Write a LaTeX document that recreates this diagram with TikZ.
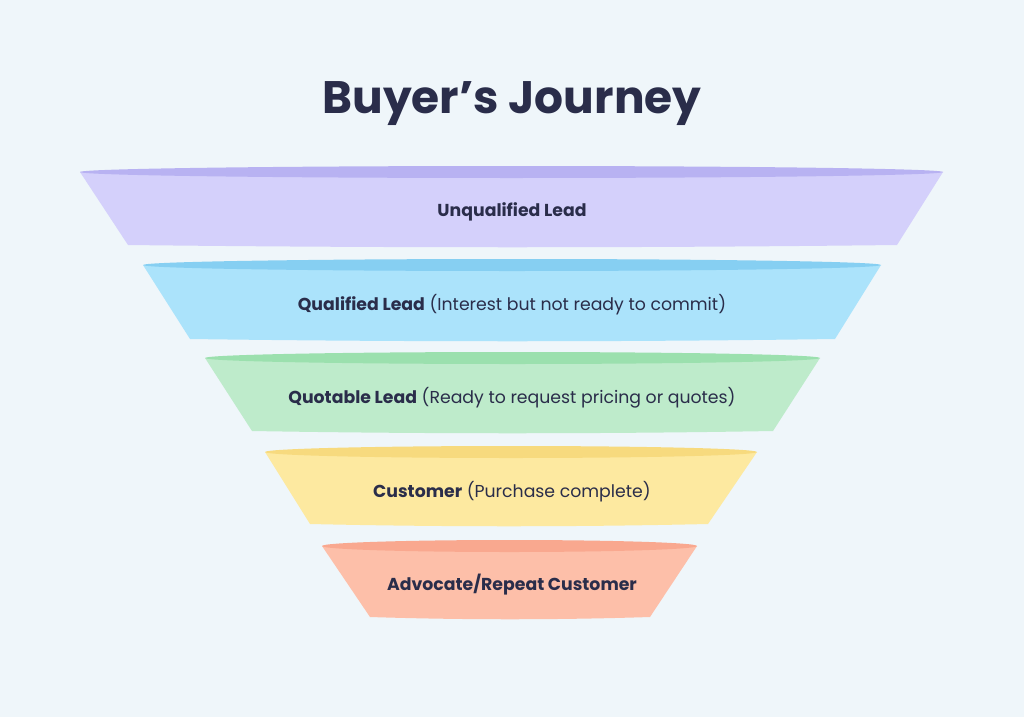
\documentclass[tikz,border=0pt]{standalone}
\usepackage{fontspec}
\setmainfont{Poppins}
\definecolor{bg}{HTML}{EFF6FA}
\definecolor{ink}{HTML}{2A2D4A}
\definecolor{f1}{HTML}{D4D0FB}\definecolor{r1}{HTML}{B8B2F2}
\definecolor{f2}{HTML}{ABE3FB}\definecolor{r2}{HTML}{86CFF2}
\definecolor{f3}{HTML}{BEEBCB}\definecolor{r3}{HTML}{9BE0AE}
\definecolor{f4}{HTML}{FDE9A0}\definecolor{r4}{HTML}{F7DA7E}
\definecolor{f5}{HTML}{FDBFA9}\definecolor{r5}{HTML}{F9A88F}
\tikzset{lbl/.style={text=ink,font=\fontsize{17.3}{19}\selectfont}}
\newcommand{\band}[7]{% xl xr ytop bxl bxr ybot idx
  \fill[f#7] (#1,#3) -- (#4,#6) .. controls ({#4+(#5-#4)/3},{#6+3}) and ({#5-(#5-#4)/3},{#6+3}) .. (#5,#6) -- (#2,#3) -- cycle;
  \fill[r#7] ({(#1+#2)/2},#3) ellipse ({(#2-#1)/2} and 6);
}
\begin{document}
\begin{tikzpicture}[x=1pt,y=-1pt]
\fill[bg] (0,0) rectangle (1024,717);
\useasboundingbox (0,0) rectangle (1024,717);
\node[text=ink,font=\fontsize{45.5}{50}\selectfont\bfseries] (title) at (512,104) {Buyer’s Journey};
\band{80}{943}{172}{128}{897}{245}{1}
\band{143}{881}{265}{190}{835}{339}{2}
\band{205}{820}{358}{252}{773}{431}{3}
\band{265}{757}{452}{310}{708}{524}{4}
\band{322}{697}{546}{370}{650}{617}{5}
\node[lbl] (l1) at (512,212) {\textbf{Unqualified Lead}};
\node[lbl] (l2) at (512,305) {\textbf{Qualified Lead} (Interest but not ready to commit)};
\node[lbl] (l3) at (512,398) {\textbf{Quotable Lead} (Ready to request pricing or quotes)};
\node[lbl] (l4) at (512,492) {\textbf{Customer} (Purchase complete)};
\node[lbl] (l5) at (512,585) {\textbf{Advocate/Repeat Customer}};
\end{tikzpicture}
\end{document}
